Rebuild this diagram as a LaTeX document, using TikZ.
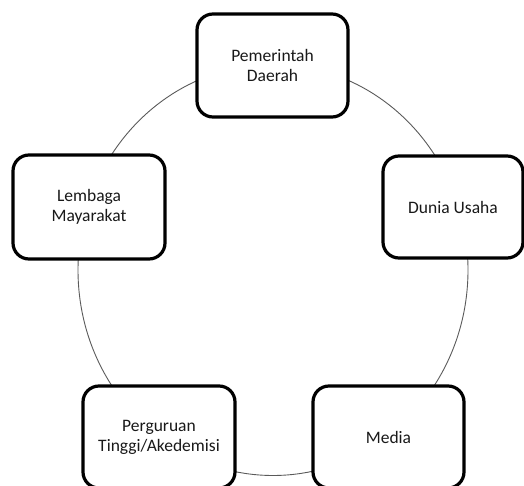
\documentclass[tikz,border=0pt]{standalone}
\usepackage{fontspec}
\setmainfont{Carlito}
\definecolor{ringgray}{RGB}{90,90,90}
\definecolor{txt}{RGB}{25,25,25}
\tikzset{
  actor/.style={draw=black, line width=3.2pt, rounded corners=16pt, fill=white,
    align=center, text=txt, inner sep=0pt,
    font=\fontsize{17.5}{20}\selectfont},
  ring/.style={draw=ringgray, line width=0.9pt}
}
\begin{document}
\begin{tikzpicture}[x=1pt,y=-1pt]
\useasboundingbox (0,0) rectangle (524,486);
\clip (0,0) rectangle (524,486);
\coordinate (c) at (273,270);
\draw[ring] (c) ellipse [x radius=195, y radius=205.5];
\node[actor, minimum width=151pt, minimum height=103pt] (pem) at (272.5,65.5) {Pemerintah\\Daerah};
\node[actor, minimum width=140pt, minimum height=102pt] (dun) at (453,207) {Dunia Usaha};
\node[actor, minimum width=152pt, minimum height=104pt] (lem) at (89,207) {Lembaga\\Mayarakat};
\node[actor, minimum width=152pt, minimum height=102pt] (per) at (159,437) {Perguruan\\Tinggi/Akedemisi};
\node[actor, minimum width=151pt, minimum height=102pt] (med) at (388.5,437) {Media};
\end{tikzpicture}
\end{document}
